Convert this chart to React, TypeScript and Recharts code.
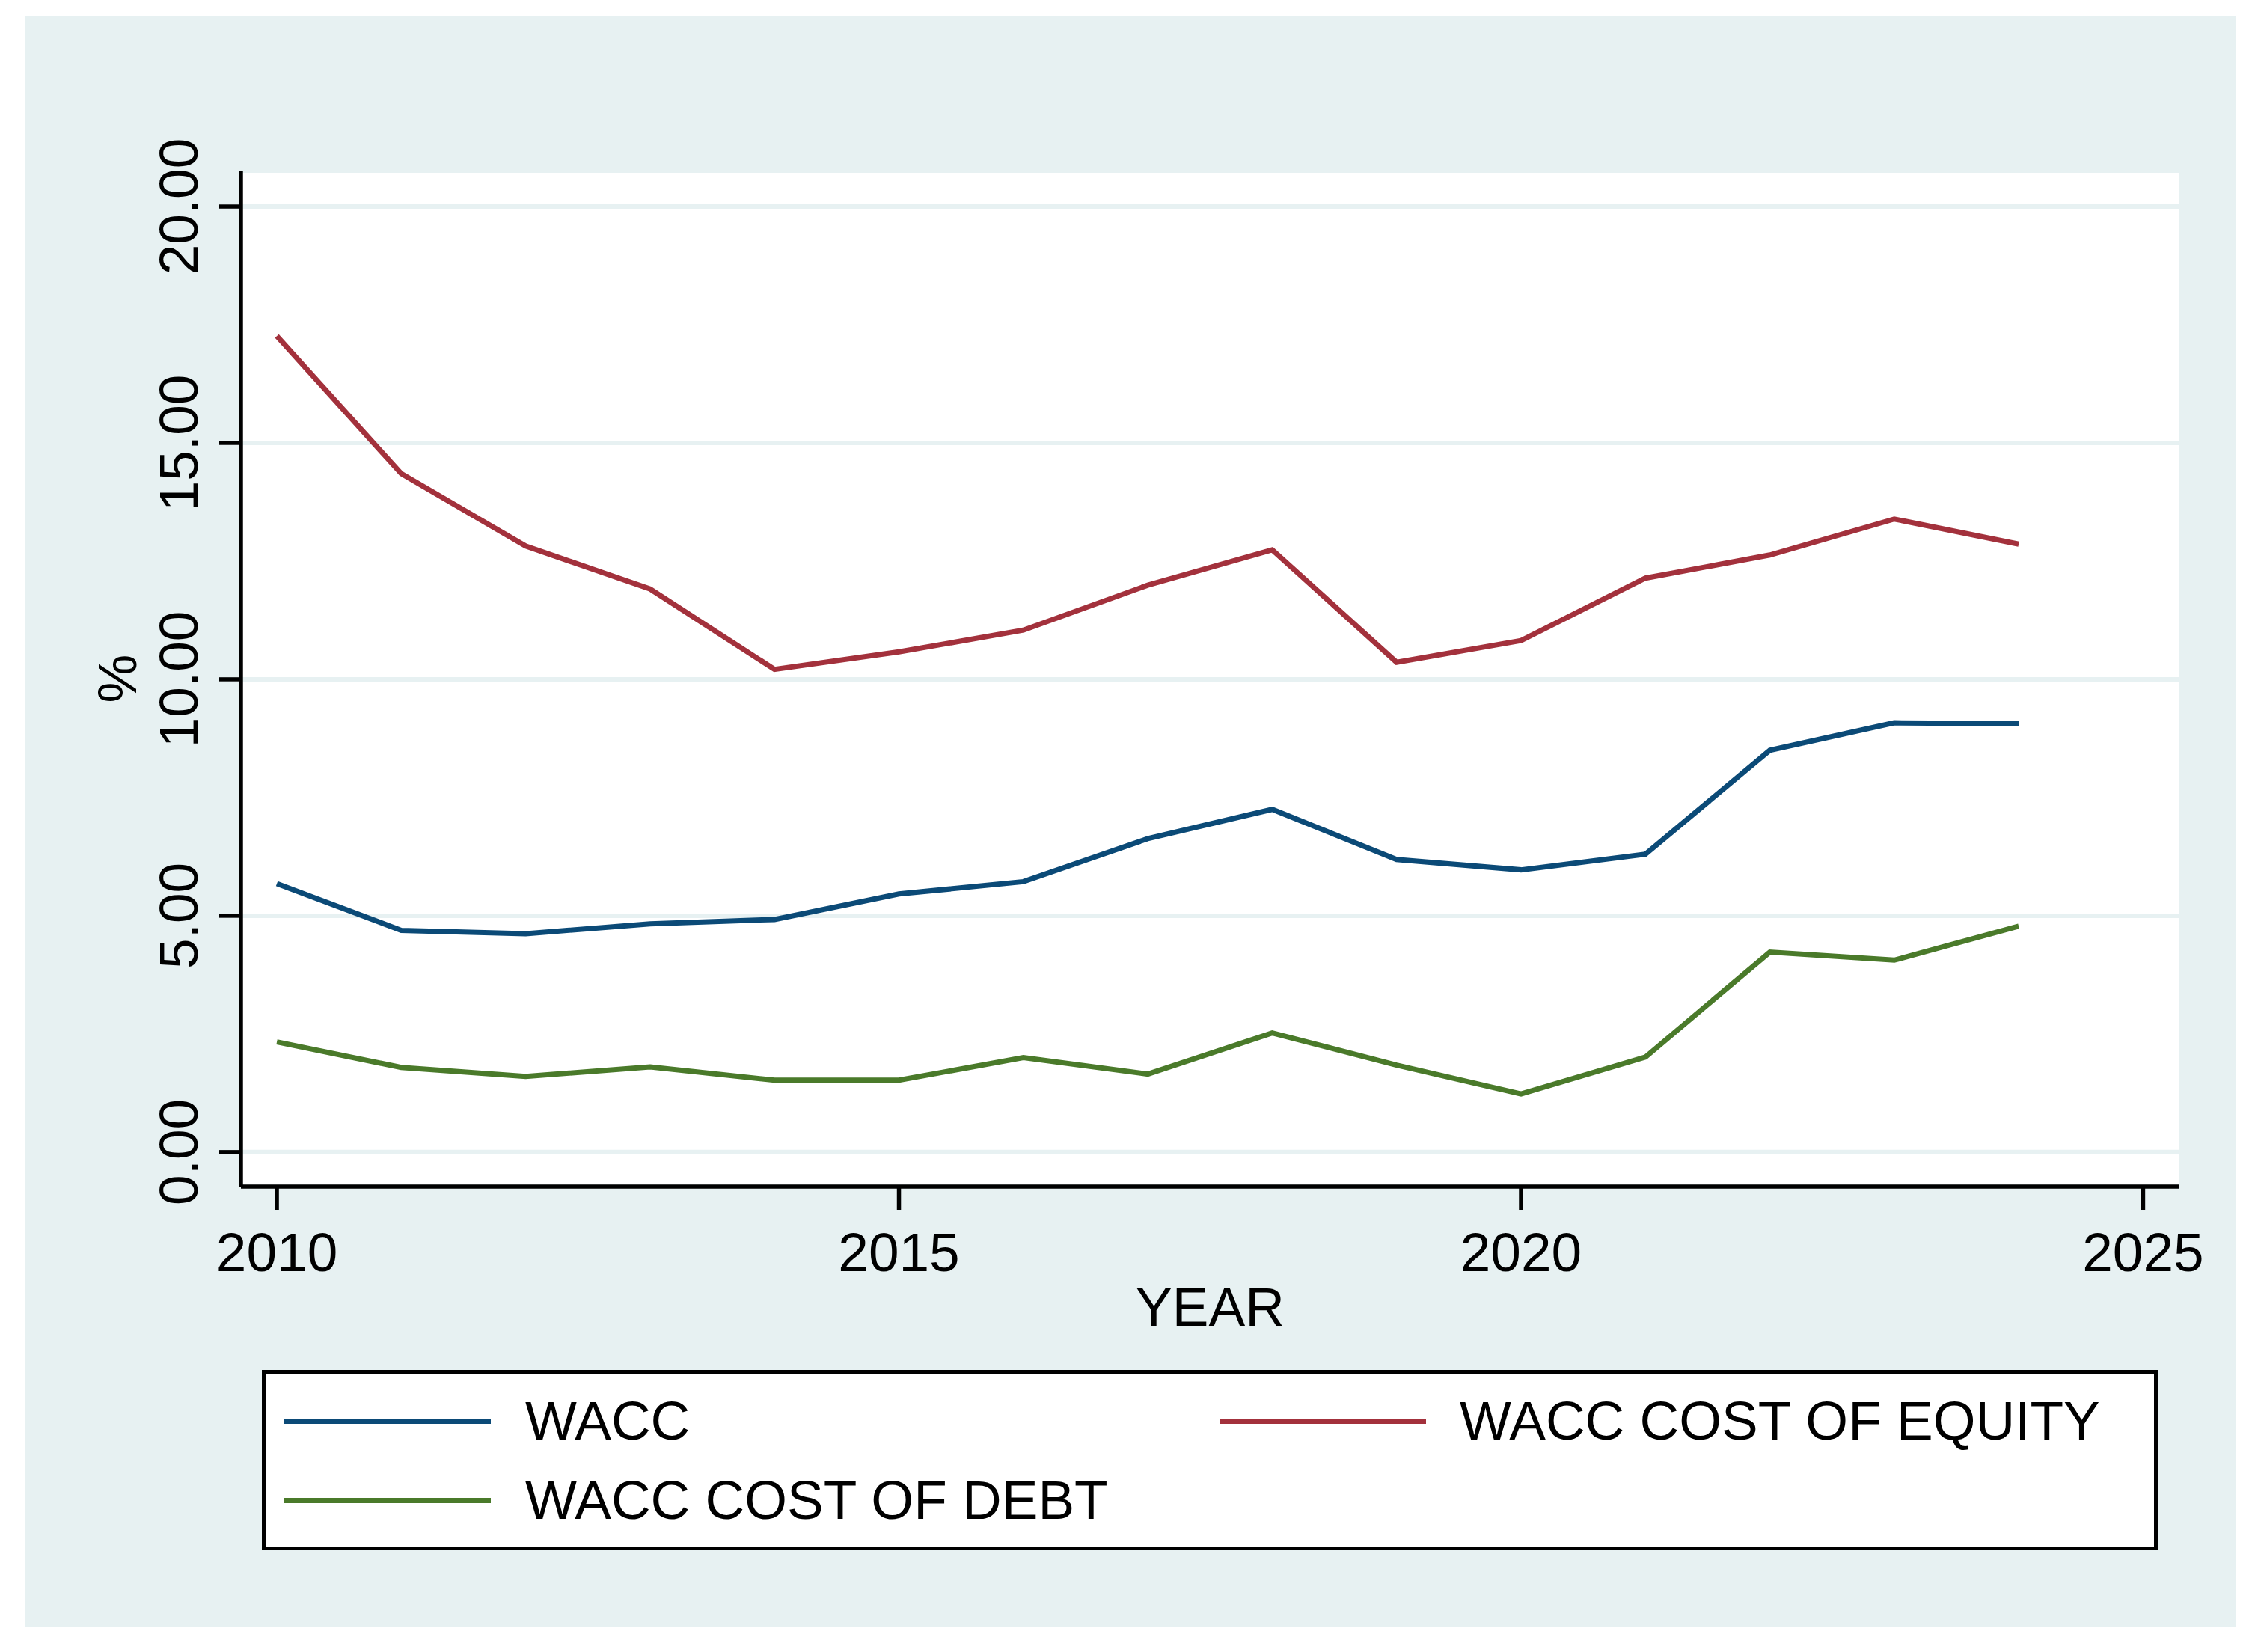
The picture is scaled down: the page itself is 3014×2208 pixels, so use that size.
import { LineChart, Line, XAxis, YAxis, CartesianGrid, Legend } from 'recharts'

// values (percent)
const years = [2010, 2011, 2012, 2013, 2014, 2015, 2016, 2017, 2018, 2019, 2020, 2021, 2022, 2023, 2024]
const wacc = [5.68, 4.69, 4.62, 4.83, 4.92, 5.46, 5.72, 6.63, 7.25, 6.19, 5.97, 6.3, 8.5, 9.08, 9.06]
const costOfEquity = [17.26, 14.35, 12.82, 11.91, 10.21, 10.58, 11.04, 11.99, 12.74, 10.36, 10.82, 12.14, 12.63, 13.39, 12.86]
const costOfDebt = [2.33, 1.79, 1.6, 1.8, 1.52, 1.52, 2.0, 1.65, 2.52, 1.84, 1.23, 2.01, 4.23, 4.06, 4.78]

const xTicks = [2010, 2015, 2020, 2025]
const yTicks = [0, 5, 10, 15, 20]

const seriesNames = ['WACC', 'WACC COST OF EQUITY', 'WACC COST OF DEBT']

const data = years.map((year, i) => ({
  year,
  wacc: wacc[i],
  equity: costOfEquity[i],
  debt: costOfDebt[i],
}))

const FONT = '"Liberation Sans", Arial, Helvetica, sans-serif'
const FS = 73
const BG = '#e7f1f2'
const LINE_W = 7

const YTick = (props: any) => {
  const { x, y, payload } = props
  return (
    <text
      x={x}
      y={y}
      transform={`rotate(-90, ${x}, ${y})`}
      textAnchor="middle"
      fontFamily={FONT}
      fontSize={FS}
      fill="#000"
    >
      {Number(payload.value).toFixed(2)}
    </text>
  )
}

const YLabel = (props: any) => {
  const { viewBox } = props
  const x = viewBox.x + 60
  const y = viewBox.y + viewBox.height / 2
  return (
    <text
      x={x}
      y={y}
      transform={`rotate(-90, ${x}, ${y})`}
      textAnchor="middle"
      fontFamily={FONT}
      fontSize={FS}
      fill="#000"
    >
      %
    </text>
  )
}

// legend item spots, in px from the box's outer edge
const colLine = [30, 1280]
const colText = [352, 1601]
const rowMid = [68, 174]

const renderLegend = (props: any) => {
  // keep the series order (stata fills the legend row by row)
  const items = [...(props.payload || [])].sort(
    (a: any, b: any) => seriesNames.indexOf(a.value) - seriesNames.indexOf(b.value)
  )
  return (
    <div
      style={{
        position: 'relative',
        width: '100%',
        height: '100%',
        boxSizing: 'border-box',
        border: '5px solid #000',
        background: '#fff',
        fontFamily: FONT,
        fontSize: FS,
        color: '#000',
      }}
    >
      {items.map((entry: any, i: number) => {
        const col = i % 2
        const row = Math.floor(i / 2)
        return (
          <div key={entry.value}>
            <div
              style={{
                position: 'absolute',
                left: colLine[col] - 5,
                top: rowMid[row] - 5 - LINE_W / 2,
                width: 276,
                height: LINE_W,
                background: entry.color,
              }}
            />
            <div
              style={{
                position: 'absolute',
                left: colText[col] - 5,
                top: rowMid[row] - 5 - 45,
                height: 90,
                lineHeight: '90px',
                whiteSpace: 'nowrap',
              }}
            >
              {entry.value}
            </div>
          </div>
        )
      })}
    </div>
  )
}

export default function App() {
  return (
    <div style={{ position: 'absolute', left: 0, top: 0, width: 3014, height: 2208, background: '#fff' }}>
      <div style={{ position: 'absolute', left: 33, top: 22, width: 2955, height: 2152, background: BG }} />
      <div style={{ position: 'absolute', left: 0, top: 0 }}>
        <LineChart
          width={3014}
          height={2208}
          data={data}
          margin={{ top: 228, right: 101, left: 122, bottom: 422 }}
        >
          <CartesianGrid vertical={false} fill="#fff" stroke={BG} strokeWidth={6} />
          <XAxis
            dataKey="year"
            type="number"
            domain={[2009.711, 2025.292]}
            allowDataOverflow
            ticks={xTicks}
            interval={0}
            height={200}
            tickSize={31}
            tickMargin={30}
            axisLine={{ stroke: '#000', strokeWidth: 5.5 }}
            tickLine={{ stroke: '#000', strokeWidth: 5.5 }}
            tick={{ fill: '#000', fontSize: FS, fontFamily: FONT }}
            label={{ value: 'YEAR', position: 'insideBottom', offset: 14, fill: '#000', fontSize: FS, fontFamily: FONT }}
          />
          <YAxis
            type="number"
            domain={[-0.73, 20.76]}
            allowDataOverflow
            ticks={yTicks}
            interval={0}
            width={200}
            tickSize={29}
            tickMargin={29}
            axisLine={{ stroke: '#000', strokeWidth: 5.5 }}
            tickLine={{ stroke: '#000', strokeWidth: 5.5 }}
            tick={<YTick />}
            label={<YLabel />}
          />
          <Legend
            layout="vertical"
            align="center"
            verticalAlign="middle"
            content={renderLegend}
            wrapperStyle={{ left: 350, top: 1831, width: 2534, height: 241 }}
          />
          <Line
            type="linear"
            dataKey="wacc"
            name={seriesNames[0]}
            stroke="#0b4a77"
            strokeWidth={LINE_W}
            dot={false}
            activeDot={false}
            isAnimationActive={false}
          />
          <Line
            type="linear"
            dataKey="equity"
            name={seriesNames[1]}
            stroke="#a3313c"
            strokeWidth={LINE_W}
            dot={false}
            activeDot={false}
            isAnimationActive={false}
          />
          <Line
            type="linear"
            dataKey="debt"
            name={seriesNames[2]}
            stroke="#4a7a2a"
            strokeWidth={LINE_W}
            dot={false}
            activeDot={false}
            isAnimationActive={false}
          />
        </LineChart>
      </div>
    </div>
  )
}
